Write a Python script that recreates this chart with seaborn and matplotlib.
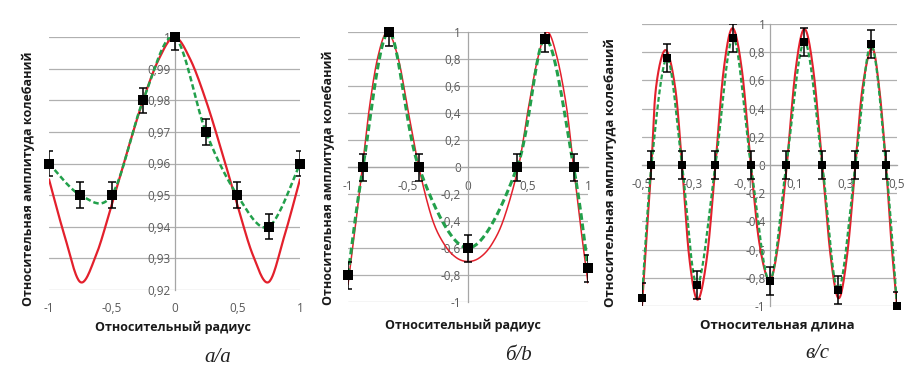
import numpy as np
import pandas as pd
import seaborn as sns
from matplotlib import pyplot as plt
from matplotlib.ticker import FixedLocator, FuncFormatter

# ---- panel a: relative radius ----
a_x = [-1, -0.75, -0.5, -0.25, 0, 0.25, 0.5, 0.75, 1]
a_y = [0.96, 0.95, 0.95, 0.98, 1.0, 0.97, 0.95, 0.94, 0.96]
a_err = 0.004
a_red_x = [-1, -0.875, -0.75, -0.625, -0.5, -0.375, -0.25, -0.125, 0,
           0.125, 0.25, 0.375, 0.5, 0.625, 0.75, 0.875, 1]
a_red_y = [0.955, 0.937, 0.9225, 0.931, 0.947, 0.964, 0.980, 0.993, 1.0,
           0.993, 0.980, 0.964, 0.947, 0.931, 0.9225, 0.937, 0.955]
a_yticks = [0.92, 0.93, 0.94, 0.95, 0.96, 0.97, 0.98, 0.99, 1.0]
a_xticks = [-1, -0.5, 0, 0.5, 1]

# ---- panel b: relative radius ----
b_x = [-1, -0.875, -0.66, -0.41, 0, 0.41, 0.645, 0.88, 1]
b_y = [-0.8, 0, 1.0, 0, -0.6, 0, 0.95, 0, -0.75]
b_err = 0.1
b_red_x = [-1, -0.94, -0.88, -0.82, -0.75, -0.67, -0.58, -0.5, -0.41, -0.3, -0.2, -0.1, 0,
           0.1, 0.2, 0.3, 0.42, 0.5, 0.58, 0.66, 0.74, 0.82, 0.88, 0.94, 1]
b_red_y = [-0.87, -0.45, 0, 0.45, 0.82, 1.0, 0.80, 0.42, 0, -0.38, -0.57, -0.67, -0.70,
           -0.67, -0.57, -0.38, 0, 0.42, 0.80, 1.0, 0.82, 0.45, 0, -0.45, -0.86]
b_yticks = [-1, -0.8, -0.6, -0.4, -0.2, 0, 0.2, 0.4, 0.6, 0.8, 1]
b_xticks = [-1, -0.5, 0, 0.5, 1]

# ---- panel c: relative length ----
c_x = [-0.5, -0.463, -0.402, -0.343, -0.284, -0.212, -0.143, -0.073, 0,
       0.066, 0.137, 0.207, 0.269, 0.337, 0.398, 0.457, 0.5]
c_y = [-0.94, 0, 0.757, 0, -0.85, 0, 0.903, 0, -0.823,
       0, 0.875, 0, -0.887, 0, 0.856, 0, -1.0]
c_err = 0.1
c_red_x = [-0.5, -0.482, -0.463, -0.445, -0.408, -0.37, -0.343, -0.315, -0.282, -0.245,
           -0.212, -0.18, -0.145, -0.108, -0.073, -0.04, 0, 0.035, 0.068, 0.102, 0.137,
           0.172, 0.207, 0.24, 0.272, 0.305, 0.337, 0.365, 0.402, 0.43, 0.457, 0.478, 0.5]
c_red_y = [-1.0, -0.5, 0, 0.55, 0.815, 0.55, 0, -0.65, -0.955, -0.65,
           0, 0.67, 0.97, 0.67, 0, -0.55, -0.82, -0.55, 0, 0.67, 0.965,
           0.67, 0, -0.65, -0.945, -0.63, 0, 0.55, 0.83, 0.55, 0, -0.55, -1.0]
c_yticks = b_yticks
c_xticks = [-0.5, -0.3, -0.1, 0.1, 0.3, 0.5]

RED = "#e3202c"
GREEN = "#22a04b"
GRID = "#b0b0b0"
TICK = "#595959"
W, H = 917, 368


def smooth(xs, ys, n=24):
    # Excel-style smoothed line (Catmull-Rom through the points)
    p = np.column_stack([xs, ys]).astype(float)
    p = np.vstack([p[0], p, p[-1]])
    out = []
    t = np.linspace(0, 1, n, endpoint=False)[:, None]
    for i in range(1, len(p) - 2):
        p0, p1, p2, p3 = p[i - 1], p[i], p[i + 1], p[i + 2]
        seg = 0.5 * ((2 * p1) + (-p0 + p2) * t + (2 * p0 - 5 * p1 + 4 * p2 - p3) * t ** 2
                     + (-p0 + 3 * p1 - 3 * p2 + p3) * t ** 3)
        out.append(seg)
    out.append(p[-2][None, :])
    out = np.vstack(out)
    return pd.DataFrame({"x": out[:, 0], "y": out[:, 1]})


def fmt(v, pos):
    s = f"{v:.2f}".rstrip("0").rstrip(".")
    if s == "-0":
        s = "0"
    return s.replace(".", ",")


def box(l, t, r, b):
    return [l / W, 1 - b / H, (r - l) / W, (b - t) / H]


def panel(ax, xs, ys, err, rx, ry, xlim, ylim, xticks, yticks, zero_axis,
          red_lw, green_lw, ms, ypad, xpad):
    sns.lineplot(data=smooth(rx, ry), x="x", y="y", ax=ax, color=RED, lw=red_lw,
                 sort=False, estimator=None, zorder=2)
    sns.lineplot(data=smooth(xs, ys), x="x", y="y", ax=ax, color=GREEN, lw=green_lw,
                 linestyle=(0, (2.2, 1.2)), sort=False, estimator=None, zorder=3)
    ax.errorbar(xs, ys, yerr=err, fmt="none", ecolor="black", elinewidth=1.1,
                capsize=3, capthick=1.1, zorder=4)
    sns.scatterplot(x=xs, y=ys, ax=ax, marker="s", color="black", s=ms, linewidth=0,
                    zorder=5, clip_on=False)
    ax.set_xlim(*xlim)
    ax.set_ylim(*ylim)
    ax.xaxis.set_major_locator(FixedLocator(xticks))
    ax.yaxis.set_major_locator(FixedLocator(yticks))
    ax.xaxis.set_major_formatter(FuncFormatter(fmt))
    ax.yaxis.set_major_formatter(FuncFormatter(fmt))
    ax.set_axisbelow(True)
    ax.yaxis.grid(True, color=GRID, lw=0.9)
    ax.xaxis.grid(False)
    for s in ["top", "right"]:
        ax.spines[s].set_visible(False)
    ax.spines["left"].set_position(("data", 0))
    ax.spines["left"].set_color("#a6a6a6")
    ax.spines["left"].set_linewidth(0.9)
    if zero_axis:
        ax.spines["bottom"].set_position(("data", 0))
        ax.spines["bottom"].set_color("#a6a6a6")
        ax.spines["bottom"].set_linewidth(0.9)
    else:
        ax.spines["bottom"].set_visible(False)
    ax.tick_params(axis="y", length=0, labelsize=8.5, labelcolor=TICK, pad=ypad)
    ax.tick_params(axis="x", length=0, labelsize=8.5, labelcolor=TICK, pad=xpad)
    ax.set_xlabel("")
    ax.set_ylabel("")


sns.set_theme(style="white")
plt.rcParams["font.family"] = ["Open Sans", "DejaVu Sans"]

fig = plt.figure(figsize=(W / 100, H / 100), dpi=100)
ax_a = fig.add_axes(box(49, 37, 300, 290))
ax_b = fig.add_axes(box(348, 32, 588, 302))
ax_c = fig.add_axes(box(642, 24, 897, 306))

panel(ax_a, a_x, a_y, a_err, a_red_x, a_red_y, (-1, 1), (0.92, 1.0),
      a_xticks, a_yticks, False, 1.6, 1.8, 55, 3, 9)
panel(ax_b, b_x, b_y, b_err, b_red_x, b_red_y, (-1, 1), (-1, 1),
      b_xticks, b_yticks, True, 1.1, 2.2, 55, 5, 9)
panel(ax_c, c_x, c_y, c_err, c_red_x, c_red_y, (-0.5, 0.5), (-1, 1),
      c_xticks, c_yticks, True, 1.5, 1.6, 36, 3, 9)

ylab = "Относительная амплитуда колебаний"
lab_kw = dict(fontsize=9, fontweight="bold", color="#1a1a1a", ha="center", va="center")
fig.text(28 / W, 1 - 179 / H, ylab, rotation=90, **lab_kw)
fig.text(328 / W, 1 - 178 / H, ylab, rotation=90, **lab_kw)
fig.text(610 / W, 1 - 173 / H, ylab, rotation=90, **{**lab_kw, "fontsize": 9.5})
fig.text(173 / W, 1 - 327 / H, "Относительный радиус", **lab_kw)
fig.text(463 / W, 1 - 325 / H, "Относительный радиус", **lab_kw)
fig.text(777 / W, 1 - 325 / H, "Относительная длина", **{**lab_kw, "fontsize": 9.5})

cap_kw = dict(family="Liberation Serif", style="italic", fontsize=15, color="#222222",
              ha="center", va="center")
fig.text(218 / W, 1 - 357 / H, "а/a", **cap_kw)
fig.text(518 / W, 1 - 355 / H, "б/b", **cap_kw)
fig.text(817 / W, 1 - 353 / H, "в/c", **cap_kw)

fig.savefig("out.png", dpi=100)
